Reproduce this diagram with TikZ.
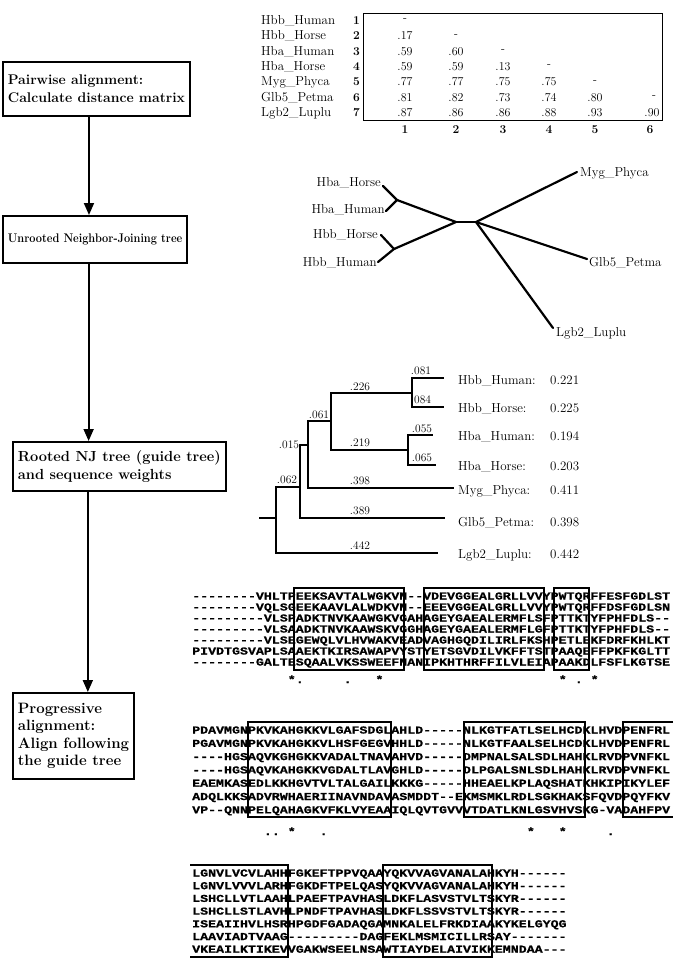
\documentclass[tikz,border=0pt]{standalone}
\usepackage{fontspec}
\usepackage{graphicx}
\newfontfamily\seqfont{Liberation Mono}[Ligatures=TeXOff, FakeStretch=1.25, BoldFeatures={FakeBold=0.8}]
\usetikzlibrary{arrows.meta}

\begin{document}
\begin{tikzpicture}[x=1pt,y=-1pt]

	\tikzstyle stepbox=[draw, line width=1.8pt, anchor=north west, align=left, inner xsep=5pt, inner ysep=2pt, font=\fontsize{14}{18}\selectfont\bfseries];
	\tikzstyle flow=[line width=1.8pt, -{Triangle[width=10pt,length=12pt]}];
	\tikzstyle taxon=[font=\fontsize{13}{15}\selectfont, inner sep=0pt];
	\tikzstyle dist=[font=\fontsize{12}{14}\selectfont, inner sep=0pt, anchor=base];
	\tikzstyle idx=[font=\fontsize{12}{14}\selectfont\bfseries, inner sep=0pt, anchor=base];
	\tikzstyle blen=[font=\fontsize{11.5}{13}\selectfont, inner sep=0pt, anchor=base];
	\tikzstyle twig=[line width=2.2pt, line cap=round];
	\tikzstyle branch=[line width=1.8pt, line cap=rect];
	\tikzstyle seq=[font=\seqfont\fontsize{10.62}{12}\selectfont\bfseries, anchor=base west, inner sep=0pt];
	\tikzstyle helix=[line width=1.8pt];

	\useasboundingbox (0,0) rectangle (674,971);

	% steps
	\node[stepbox, minimum height=54pt] (pairwise) at (2,61) {Pairwise alignment:\\Calculate distance matrix};
	\node[stepbox, minimum height=47pt, font=\fontsize{12.5}{18}\selectfont\bfseries] (unrooted) at (2,215) {\scalebox{0.88}[1]{Unrooted Neighbor-Joining tree}};
	\node[stepbox, minimum height=49pt, font=\fontsize{14.6}{18}\selectfont\bfseries] (rooted) at (12,441) {Rooted NJ tree (guide tree)\\and sequence weights};
	\node[stepbox, minimum height=86pt, font=\fontsize{15}{17.5}\selectfont\bfseries] (progressive) at (12,692) {Progressive\\alignment:\\Align following\\the guide tree};

	\coordinate (f1) at ([xshift=-7.5pt]pairwise.south);
	\coordinate (f2) at ([xshift=-6.5pt]unrooted.south);
	\coordinate (f3) at ([xshift=-31.5pt]rooted.south);
	\draw[flow] (f1) -- (f1 |- unrooted.north);
	\draw[flow] (f2) -- (f2 |- rooted.north);
	\draw[flow] (f3) -- (f3 |- progressive.north);

	% distance matrix
	\node[draw, line width=1.4pt, anchor=north west, minimum width=299pt, minimum height=107pt, inner sep=0pt] (distframe) at (363,13) {};
	\node[taxon, anchor=base west] (mHbbHu) at (261,24.5) {Hbb\_Human};
	\node[taxon, anchor=base west] (mHbbHo) at (261,39.8) {Hbb\_Horse};
	\node[taxon, anchor=base west] (mHbaHu) at (261,55.2) {Hba\_Human};
	\node[taxon, anchor=base west] (mHbaHo) at (261,70.5) {Hba\_Horse};
	\node[taxon, anchor=base west] (mMyg) at (261,85.8) {Myg\_Phyca};
	\node[taxon, anchor=base west] (mGlb) at (261,101.2) {Glb5\_Petma};
	\node[taxon, anchor=base west] (mLgb) at (261,116.5) {Lgb2\_Luplu};
	\node[idx, anchor=base east] (i1) at (360,24.5) {1};
	\node[idx, anchor=base east] (i2) at (360,39.8) {2};
	\node[idx, anchor=base east] (i3) at (360,55.2) {3};
	\node[idx, anchor=base east] (i4) at (360,70.5) {4};
	\node[idx, anchor=base east] (i5) at (360,85.8) {5};
	\node[idx, anchor=base east] (i6) at (360,101.2) {6};
	\node[idx, anchor=base east] (i7) at (360,116.5) {7};

	\node[dist] (d11) at (405,22) {-};
	\node[dist] (d21) at (405,39.8) {.17};
	\node[dist] (d22) at (456,37.3) {-};
	\node[dist] (d31) at (405,55.2) {.59};
	\node[dist] (d32) at (456,55.2) {.60};
	\node[dist] (d33) at (503,52.7) {-};
	\node[dist] (d41) at (405,70.5) {.59};
	\node[dist] (d42) at (456,70.5) {.59};
	\node[dist] (d43) at (503,70.5) {.13};
	\node[dist] (d44) at (549,68) {-};
	\node[dist] (d51) at (405,85.8) {.77};
	\node[dist] (d52) at (456,85.8) {.77};
	\node[dist] (d53) at (503,85.8) {.75};
	\node[dist] (d54) at (549,85.8) {.75};
	\node[dist] (d55) at (595,83.3) {-};
	\node[dist] (d61) at (405,101.2) {.81};
	\node[dist] (d62) at (456,101.2) {.82};
	\node[dist] (d63) at (503,101.2) {.73};
	\node[dist] (d64) at (549,101.2) {.74};
	\node[dist] (d65) at (595,101.2) {.80};
	\node[dist] (d66) at (654,98.7) {-};
	\node[dist] (d71) at (405,116.5) {.87};
	\node[dist] (d72) at (456,116.5) {.86};
	\node[dist] (d73) at (503,116.5) {.86};
	\node[dist] (d74) at (549,116.5) {.88};
	\node[dist] (d75) at (595,116.5) {.93};
	\node[dist] (d76) at (652,116.5) {.90};
	\node[idx] (j1) at (405,133) {1};
	\node[idx] (j2) at (456,133) {2};
	\node[idx] (j3) at (503,133) {3};
	\node[idx] (j4) at (549,133) {4};
	\node[idx] (j5) at (595,133) {5};
	\node[idx] (j6) at (650,133) {6};

	% unrooted tree
	\coordinate (uL) at (456,222);
	\coordinate (uR) at (476,222);
	\coordinate (uHba) at (397,200);
	\coordinate (uHbb) at (394,249);
	\coordinate (uHbaHo) at (383,186);
	\coordinate (uHbaHu) at (386,211);
	\coordinate (uHbbHo) at (381,235);
	\coordinate (uHbbHu) at (378,262);
	\coordinate (uMyg) at (577,172);
	\coordinate (uGlb) at (587,259);
	\coordinate (uLgb) at (553,328);
	\draw[twig] (uHbaHo) -- (uHba) -- (uHbaHu);
	\draw[twig] (uHbbHo) -- (uHbb) -- (uHbbHu);
	\draw[twig] (uHba) -- (uL) -- (uHbb);
	\draw[twig] (uL) -- (uR);
	\draw[twig] (uMyg) -- (uR) -- (uGlb);
	\draw[twig] (uR) -- (uLgb);
	\node[taxon, anchor=base east] (uHbaHoL) at (381,186) {Hba\_Horse};
	\node[taxon, anchor=base east] (uHbaHuL) at (385,213.5) {Hba\_Human};
	\node[taxon, anchor=base east] (uHbbHoL) at (378,238.5) {Hbb\_Horse};
	\node[taxon, anchor=base east] (uHbbHuL) at (377,266.5) {Hbb\_Human};
	\node[taxon, anchor=base west] (uMygL) at (580,176) {Myg\_Phyca};
	\node[taxon, anchor=base west] (uGlbL) at (589,266.5) {Glb5\_Petma};
	\node[taxon, anchor=base west] (uLgbL) at (556,336) {Lgb2\_Luplu};

	% rooted tree
	\coordinate (rStub) at (260,518);
	\coordinate (rRoot) at (276,518);
	\coordinate (rA) at (276,487);
	\coordinate (rB) at (300,487);
	\coordinate (rC) at (300,445);
	\coordinate (rD) at (308,445);
	\coordinate (rE) at (308,421);
	\coordinate (rF) at (331,421);
	\coordinate (rG) at (331,393);
	\coordinate (rHbb) at (412,393);
	\coordinate (rHba) at (408,450);
	\coordinate (tHbbHu) at (443,378);
	\coordinate (tHbbHo) at (443,407);
	\coordinate (tHbaHu) at (432,435);
	\coordinate (tHbaHo) at (435,465);
	\coordinate (tMyg) at (453,488);
	\coordinate (tGlb) at (444,518);
	\coordinate (tLgb) at (437,553);
	\draw[branch] (rStub) -- (rRoot);
	\draw[branch] (tLgb) -| (rA) -- (rB);
	\draw[branch] (tGlb) -| (rC) -- (rD);
	\draw[branch] (tMyg) -| (rE) -- (rF);
	\draw[branch] (rHba) -| (rG) -- (rHbb);
	\draw[branch] (tHbbHu) -| (rHbb) |- (tHbbHo);
	\draw[branch] (tHbaHu) -| (rHba) |- (tHbaHo);

	\node[blen] (l062) at (287,483) {.062};
	\node[blen] (l015) at (289,448) {.015};
	\node[blen] (l061) at (319,418) {.061};
	\node[blen] (l226) at (360,390) {.226};
	\node[blen] (l219) at (360,446) {.219};
	\node[blen] (l398) at (360,484) {.398};
	\node[blen] (l389) at (360,514) {.389};
	\node[blen] (l442) at (360,549) {.442};
	\node[blen] (l081) at (421,374) {.081};
	\node[blen] (l084) at (421,403) {.084};
	\node[blen] (l055) at (422,432) {.055};
	\node[blen] (l065) at (422,461) {.065};

	\node[taxon, anchor=base west] (wHbbHu) at (458,384.5) {Hbb\_Human:};
	\node[taxon, anchor=base west] (wHbbHo) at (458,412.5) {Hbb\_Horse:};
	\node[taxon, anchor=base west] (wHbaHu) at (458,440.5) {Hba\_Human:};
	\node[taxon, anchor=base west] (wHbaHo) at (458,470.5) {Hba\_Horse:};
	\node[taxon, anchor=base west] (wMyg) at (458,494.5) {Myg\_Phyca:};
	\node[taxon, anchor=base west] (wGlb) at (458,526.5) {Glb5\_Petma:};
	\node[taxon, anchor=base west] (wLgb) at (458,558.5) {Lgb2\_Luplu:};
	\node[taxon, anchor=base west] (vHbbHu) at (550,384.5) {0.221};
	\node[taxon, anchor=base west] (vHbbHo) at (550,412.5) {0.225};
	\node[taxon, anchor=base west] (vHbaHu) at (550,440.5) {0.194};
	\node[taxon, anchor=base west] (vHbaHo) at (550,470.5) {0.203};
	\node[taxon, anchor=base west] (vMyg) at (550,494.5) {0.411};
	\node[taxon, anchor=base west] (vGlb) at (550,526.5) {0.398};
	\node[taxon, anchor=base west] (vLgb) at (550,558.5) {0.442};

	% alignment, first block
	\draw[helix] (294,588) rectangle (404,670);
	\draw[helix] (424,588) rectangle (544,670);
	\draw[helix] (554,588) rectangle (589,670);
	\node[seq] (a11) at (192,599.5) {--------VHLTPEEKSAVTALWGKVN--VDEVGGEALGRLLVVYPWTQRFFESFGDLST};
	\node[seq] (a12) at (192,610.5) {--------VQLSGEEKAAVLALWDKVN--EEEVGGEALGRLLVVYPWTQRFFDSFGDLSN};
	\node[seq] (a13) at (192,621.5) {---------VLSPADKTNVKAAWGKVGAHAGEYGAEALERMFLSFPTTKTYFPHFDLS--};
	\node[seq] (a14) at (192,632.5) {---------VLSAADKTNVKAAWSKVGGHAGEYGAEALERMFLGFPTTKTYFPHFDLS--};
	\node[seq] (a15) at (192,643.5) {---------VLSEGEWQLVLHVWAKVEADVAGHGQDILIRLFKSHPETLEKFDRFKHLKT};
	\node[seq] (a16) at (192,654.5) {PIVDTGSVAPLSAAEKTKIRSAWAPVYSTYETSGVDILVKFFTSTPAAQEFFPKFKGLTT};
	\node[seq] (a17) at (192,665.5) {--------GALTESQAALVKSSWEEFNANIPKHTHRFFILVLEIAPAAKDLFSFLKGTSE};
	\node[seq] (k11) at (287.6,683) {*};
	\node[seq] (k12) at (295.6,683) {.};
	\node[seq] (k13) at (343.4,683) {.};
	\node[seq] (k14) at (375.3,683) {*};
	\node[seq] (k15) at (558.6,683) {*};
	\node[seq] (k16) at (574.6,683) {.};
	\node[seq] (k17) at (590.5,683) {*};

	% second block
	\draw[helix] (248,722) rectangle (391,817);
	\draw[helix] (464,722) rectangle (585,817);
	\draw[helix] (673,722) -- (623,722) -- (623,817) -- (673,817);
	\node[seq] (a21) at (192,733.5) {PDAVMGNPKVKAHGKKVLGAFSDGLAHLD-----NLKGTFATLSELHCDKLHVDPENFRL};
	\node[seq] (a22) at (192,746.8) {PGAVMGNPKVKAHGKKVLHSFGEGVHHLD-----NLKGTFAALSELHCDKLHVDPENFRL};
	\node[seq] (a23) at (192,760.1) {----HGSAQVKGHGKKVADALTNAVAHVD-----DMPNALSALSDLHAHKLRVDPVNFKL};
	\node[seq] (a24) at (192,773.4) {----HGSAQVKAHGKKVGDALTLAVGHLD-----DLPGALSNLSDLHAHKLRVDPVNFKL};
	\node[seq] (a25) at (192,786.7) {EAEMKASEDLKKHGVTVLTALGAILKKKG-----HHEAELKPLAQSHATKHKIPIKYLEF};
	\node[seq] (a26) at (192,800.0) {ADQLKKSADVRWHAERIINAVNDAVASMDDT--EKMSMKLRDLSGKHAKSFQVDPQYFKV};
	\node[seq] (a27) at (192,813.3) {VP--QNNPELQAHAGKVFKLVYEAAIQLQVTGVVVTDATLKNLGSVHVSKG-VADAHFPV};
	\node[seq] (k21) at (263.7,835) {.};
	\node[seq] (k22) at (271.7,835) {.};
	\node[seq] (k23) at (287.6,835) {*};
	\node[seq] (k24) at (319.5,835) {.};
	\node[seq] (k25) at (526.7,835) {*};
	\node[seq] (k26) at (558.6,835) {*};
	\node[seq] (k27) at (606.4,835) {.};

	% third block
	\draw[helix] (190,865) -- (287.6,865) -- (287.6,957) -- (190,957);
	\draw[helix] (383.3,865) rectangle (492,957);
	\node[seq] (a31) at (192,876.5) {LGNVLVCVLAHHFGKEFTPPVQAAYQKVVAGVANALAHKYH------};
	\node[seq] (a32) at (192,889.2) {LGNVLVVVLARHFGKDFTPELQASYQKVVAGVANALAHKYH------};
	\node[seq] (a33) at (192,901.9) {LSHCLLVTLAAHLPAEFTPAVHASLDKFLASVSTVLTSKYR------};
	\node[seq] (a34) at (192,914.6) {LSHCLLSTLAVHLPNDFTPAVHASLDKFLSSVSTVLTSKYR------};
	\node[seq] (a35) at (192,927.3) {ISEAIIHVLHSRHPGDFGADAQGAMNKALELFRKDIAAKYKELGYQG};
	\node[seq] (a36) at (192,940.0) {LAAVIADTVAAG---------DAGFEKLMSMICILLRSAY-------};
	\node[seq] (a37) at (192,952.7) {VKEAILKTIKEVVGAKWSEELNSAWTIAYDELAIVIKKEMNDAA---};

\end{tikzpicture}
\end{document}
